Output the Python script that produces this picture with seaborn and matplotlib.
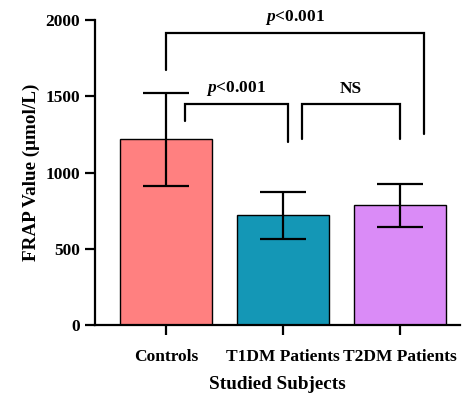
import matplotlib
matplotlib.use("Agg")
import matplotlib.pyplot as plt
import seaborn as sns
import pandas as pd

groups = ["Controls", "T1DM Patients", "T2DM Patients"]
means = [1220, 720, 785]
sds = [305, 152, 143]
colors = ["#FF8080", "#1497B6", "#DA8BF7"]

sns.set_style("ticks")
plt.rcParams["font.family"] = ["Liberation Serif", "DejaVu Serif"]
plt.rcParams["font.weight"] = "bold"
plt.rcParams["mathtext.fontset"] = "custom"
plt.rcParams["mathtext.it"] = "Liberation Serif:italic:bold"
plt.rcParams["mathtext.rm"] = "Liberation Serif:bold"
plt.rcParams["mathtext.bf"] = "Liberation Serif:bold"
for k in ["text.color", "axes.labelcolor", "xtick.color", "ytick.color",
          "axes.edgecolor", "xtick.labelcolor", "ytick.labelcolor"]:
    plt.rcParams[k] = "black"

fig = plt.figure(figsize=(4.65, 3.96), dpi=100)
ax = fig.add_axes([0.204, 0.179, 0.785, 0.770])

df = pd.DataFrame({"group": groups, "value": means})
sns.barplot(data=df, x="group", y="value", hue="group", palette=colors,
            saturation=1, edgecolor="black", linewidth=1.0, width=0.79,
            ax=ax, legend=False)
ax.errorbar(range(len(groups)), means, yerr=sds, fmt="none", ecolor="black",
            elinewidth=1.6, capsize=16.5, capthick=1.6, zorder=5)

ax.set_xlim(-0.607, 2.51)
ax.set_ylim(0, 2000)
ax.set_yticks([0, 500, 1000, 1500, 2000])
ax.set_ylabel("FRAP Value (\u03bcmol/L)", fontsize=13.8, fontweight="bold", labelpad=4)
ax.set_xlabel("Studied Subjects", fontsize=13.8, fontweight="bold", labelpad=8)
ax.tick_params(axis="both", width=1.6, length=7, labelsize=12.5, color="black")
ax.tick_params(axis="x", pad=10)
for lbl in ax.get_xticklabels() + ax.get_yticklabels():
    lbl.set_fontweight("bold")
for s in ["top", "right"]:
    ax.spines[s].set_visible(False)
for s in ["left", "bottom"]:
    ax.spines[s].set_linewidth(1.6)
    ax.spines[s].set_color("black")

def bracket(x1, x2, y, yl, yr, text, ty):
    ax.plot([x1, x1, x2, x2], [yl, y, y, yr], color="black", lw=1.6,
            clip_on=False, solid_joinstyle="miter")
    return ax.text((x1 + x2) / 2, ty, text, ha="center", va="center",
                   fontsize=12.5, fontweight="bold", clip_on=False)

bracket(0.0, 2.2, 1915, 1672, 1252, r"$\it{p}$<0.001", 2020)
bracket(0.16, 1.04, 1449, 1338, 1200, r"$\it{p}$<0.001", 1550)
bracket(1.16, 2.0, 1449, 1220, 1220, "NS", 1550)

fig.savefig("out.png", dpi=100)
